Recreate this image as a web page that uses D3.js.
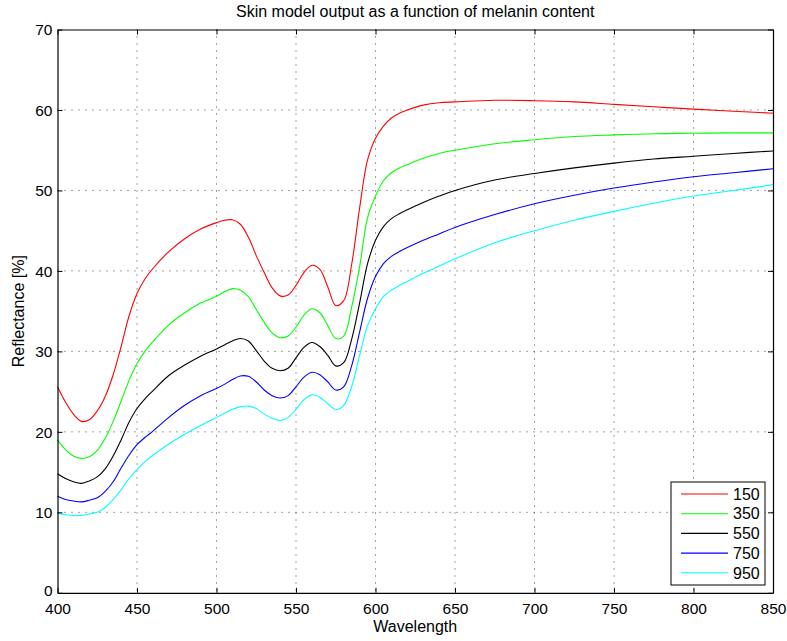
<!DOCTYPE html>
<html>
<head>
<meta charset="utf-8">
<script src="https://cdn.jsdelivr.net/npm/d3@7"></script>
<style>
  html, body { margin: 0; padding: 0; background: #fff; }
  svg { display: block; font-family: "Liberation Sans", Arial, Helvetica, sans-serif; }
</style>
</head>
<body>
<svg id="chart" width="787" height="641"></svg>
<script>
const wavelengths = [400,405,410,415,420,425,430,435,440,445,450,455,460,470,480,490,500,505,510,515,520,525,530,535,540,545,550,555,560,565,570,575,580,585,590,595,600,605,610,615,620,630,640,650,675,700,725,750,775,800,825,850];

const mel150 = [25.6,23.7,22.2,21.3,21.5,22.6,24.4,27.1,30.6,34.4,37.2,39.0,40.3,42.4,44.0,45.2,46.0,46.3,46.35,45.8,44.2,41.9,39.8,37.9,36.9,37.0,38.2,39.8,40.7,40.2,38.0,35.7,36.3,40.8,47.8,53.8,56.5,58.0,59.0,59.6,60.0,60.6,60.9,61.0,61.2,61.15,61.0,60.7,60.4,60.1,59.85,59.6];
const mel350 = [19.0,17.8,17.0,16.7,16.9,17.7,19.2,21.3,23.8,26.4,28.5,30.0,31.2,33.3,34.8,36.0,36.85,37.4,37.8,37.6,36.8,35.2,33.6,32.3,31.7,31.9,33.0,34.5,35.3,34.8,33.2,31.6,31.9,35.5,40.5,46.6,49.3,51.2,52.2,52.8,53.2,54.0,54.6,55.0,55.8,56.3,56.7,56.9,57.05,57.1,57.15,57.15];
const mel550 = [14.8,14.2,13.8,13.6,13.9,14.4,15.4,17.0,19.0,21.2,22.9,24.1,25.1,27.0,28.3,29.4,30.3,30.8,31.3,31.6,31.3,30.1,28.8,27.9,27.6,27.9,29.2,30.5,31.1,30.6,29.5,28.2,28.6,31.5,36.0,40.9,43.8,45.5,46.5,47.1,47.6,48.5,49.3,50.0,51.3,52.1,52.8,53.4,53.9,54.25,54.6,54.9];
const mel750 = [12.0,11.6,11.4,11.3,11.5,11.8,12.6,13.8,15.5,17.1,18.4,19.3,20.1,21.8,23.3,24.5,25.4,25.9,26.5,26.95,26.9,26.2,25.2,24.5,24.2,24.5,25.6,26.8,27.4,27.1,26.2,25.2,25.6,28.2,32.4,36.6,39.3,40.9,41.8,42.4,42.9,43.8,44.6,45.4,47.0,48.35,49.4,50.3,51.05,51.7,52.2,52.7];
const mel950 = [9.9,9.7,9.6,9.6,9.8,10.0,10.6,11.6,12.8,14.2,15.3,16.3,17.1,18.5,19.7,20.8,21.8,22.3,22.8,23.1,23.2,22.9,22.2,21.7,21.4,21.8,22.8,24.0,24.6,24.3,23.5,22.8,23.3,25.6,29.5,33.2,35.3,36.8,37.6,38.2,38.7,39.7,40.6,41.5,43.5,45.0,46.3,47.4,48.4,49.3,50.0,50.7];

const seriesLabels = ["150","350","550","750","950"];
const seriesColors = ["#ff0000","#00ff00","#000000","#0000ff","#00ffff"];
const seriesValues = [mel150, mel350, mel550, mel750, mel950];

const xTicks = [400,450,500,550,600,650,700,750,800,850];
const yTicks = [0,10,20,30,40,50,60,70];

const titleText = "Skin model output as a function of melanin content";
const xLabel = "Wavelength";
const yLabel = "Reflectance [%]";

const svg = d3.select("#chart");
const L = 57.5, R = 773, T = 29.5, B = 592.8;

const x = d3.scaleLinear().domain([400, 850]).range([L, R]);
const y = d3.scaleLinear().domain([0, 70]).range([B, T]);

// grid
const grid = svg.append("g");
xTicks.slice(1, -1).forEach(t => {
  grid.append("line").attr("x1", x(t)).attr("x2", x(t)).attr("y1", T).attr("y2", B)
    .attr("stroke", "#444").attr("stroke-width", 1).attr("stroke-dasharray", "1,6");
});
yTicks.slice(1, -1).forEach(t => {
  grid.append("line").attr("x1", L).attr("x2", R).attr("y1", y(t)).attr("y2", y(t))
    .attr("stroke", "#444").attr("stroke-width", 1).attr("stroke-dasharray", "1,6");
});

// lines
const line = d3.line().x(d => x(d[0])).y(d => y(d[1])).curve(d3.curveCatmullRom.alpha(0.5));
seriesValues.forEach((vals, i) => {
  svg.append("path")
    .datum(wavelengths.map((w, j) => [w, vals[j]]))
    .attr("fill", "none")
    .attr("stroke", seriesColors[i])
    .attr("stroke-width", 1.1)
    .attr("d", line);
});

// axes (inside ticks, box)
const tickLen = 5;
const axBottom = d3.axisBottom(x).tickValues(xTicks).tickSizeInner(-tickLen).tickSizeOuter(0).tickPadding(10);
const axLeft = d3.axisLeft(y).tickValues(yTicks).tickSizeInner(-tickLen).tickSizeOuter(0).tickPadding(5);
const axTop = d3.axisTop(x).tickValues(xTicks).tickSizeInner(-tickLen).tickSizeOuter(0).tickFormat("");
const axRight = d3.axisRight(y).tickValues(yTicks).tickSizeInner(-tickLen).tickSizeOuter(0).tickFormat("");

function styleAxis(g) {
  g.selectAll("path").attr("stroke", "#000").attr("stroke-width", 1.2);
  g.selectAll("line").attr("stroke", "#000").attr("stroke-width", 1);
  g.selectAll("text").attr("fill", "#000").style("font-size", "15.5px").style("font-family", "'Liberation Sans', Arial, sans-serif");
}
svg.append("g").attr("transform", `translate(0,${B})`).call(axBottom).call(styleAxis);
svg.append("g").attr("transform", `translate(${L},0)`).call(axLeft).call(styleAxis)
  .selectAll("text").attr("x", -5).attr("dy", d => d === 0 ? "0.18em" : "0.34em");
svg.append("g").attr("transform", `translate(0,${T})`).call(axTop).call(styleAxis);
svg.append("g").attr("transform", `translate(${R},0)`).call(axRight).call(styleAxis);

// title & labels
svg.append("text").attr("x", (L + R) / 2).attr("y", 17).attr("text-anchor", "middle")
  .style("font-size", "16px").attr("fill", "#000").text(titleText);
svg.append("text").attr("x", (L + R) / 2).attr("y", 632).attr("text-anchor", "middle")
  .style("font-size", "16px").attr("fill", "#000").text(xLabel);
svg.append("text").attr("transform", `translate(24,${(T + B) / 2}) rotate(-90)`).attr("text-anchor", "middle")
  .style("font-size", "16px").attr("fill", "#000").text(yLabel);

// legend
const lg = svg.append("g");
lg.append("rect").attr("x", 671).attr("y", 482).attr("width", 94).attr("height", 103)
  .attr("fill", "#fff").attr("stroke", "#000").attr("stroke-width", 1);
seriesLabels.forEach((lab, i) => {
  const yy = 494 + i * 19.7;
  lg.append("line").attr("x1", 681).attr("x2", 728).attr("y1", yy).attr("y2", yy)
    .attr("stroke", seriesColors[i]).attr("stroke-width", 1.1);
  lg.append("text").attr("x", 733).attr("y", yy).attr("dy", "0.36em")
    .style("font-size", "16px").attr("fill", "#000").text(lab);
});
</script>
</body>
</html>
